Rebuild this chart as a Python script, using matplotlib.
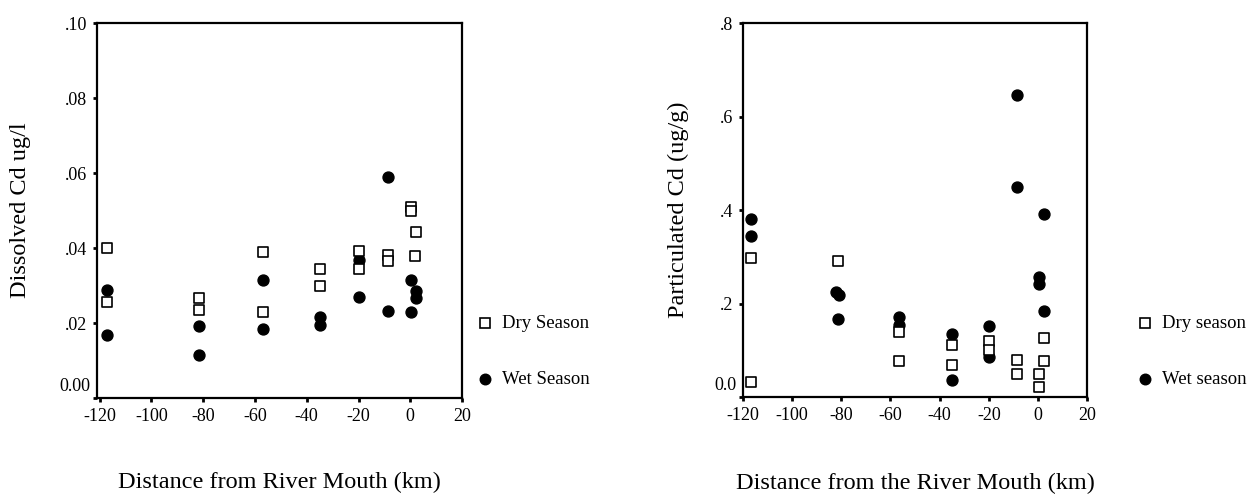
import matplotlib
matplotlib.use("Agg")
import matplotlib.pyplot as plt
from matplotlib.lines import Line2D

plt.rcParams['font.family'] = ['Liberation Serif', 'DejaVu Serif']
plt.rcParams['axes.unicode_minus'] = False

# dissolved Cd (ug/l) vs distance from river mouth (km)
diss_dry_km = [-117.2, -117.2, -81.5, -81.5, -56.8, -56.8, -34.8, -34.8,
               -20.0, -20.0, -8.6, -8.6, 0.3, 0.3, 2.3, 1.9]
diss_dry_cd = [0.040, 0.0255, 0.0266, 0.0234, 0.039, 0.0229, 0.0344, 0.030,
               0.0392, 0.0344, 0.0381, 0.0365, 0.0509, 0.0498, 0.0444, 0.0379]
diss_wet_km = [-117.2, -117.2, -81.5, -81.5, -56.8, -56.8, -34.8, -34.8,
               -20.0, -20.0, -8.6, -8.6, 0.3, 0.3, 2.3, 2.3]
diss_wet_cd = [0.0287, 0.0168, 0.0191, 0.0114, 0.0315, 0.0185, 0.0215, 0.0194,
               0.0368, 0.0269, 0.059, 0.0233, 0.0315, 0.0229, 0.0286, 0.0268]

# particulate Cd (ug/g)
part_dry_km = [-116.9, -116.9, -81.5, -56.5, -56.5, -34.8, -34.8, -19.8, -19.8,
               -8.5, -8.5, 0.6, 0.6, 2.3, 2.3]
part_dry_cd = [0.032, 0.298, 0.290, 0.139, 0.078, 0.112, 0.069, 0.120, 0.101,
               0.080, 0.050, 0.050, 0.021, 0.127, 0.078]
part_wet_km = [-116.9, -116.9, -82.0, -81.0, -81.5, -56.5, -56.5, -34.8, -34.8,
               -19.8, -19.8, -8.5, -8.5, 0.6, 0.6, 2.3, 2.3]
part_wet_cd = [0.381, 0.344, 0.224, 0.218, 0.167, 0.172, 0.153, 0.135, 0.036,
               0.151, 0.086, 0.646, 0.450, 0.256, 0.242, 0.392, 0.185]

x_ticks = [-120, -100, -80, -60, -40, -20, 0, 20]
diss_ticks = [0.0, 0.02, 0.04, 0.06, 0.08, 0.10]
diss_tick_labels = ['0.00', '.02', '.04', '.06', '.08', '.10']
part_ticks = [0.0, 0.2, 0.4, 0.6, 0.8]
part_tick_labels = ['0.0', '.2', '.4', '.6', '.8']

fig = plt.figure(figsize=(12.57, 4.99), dpi=100)
ax1 = fig.add_axes([0.0772, 0.2024, 0.2904, 0.7515])
ax2 = fig.add_axes([0.5911, 0.2044, 0.2737, 0.7495])


def style(ax, xlim, ylim, yt, ytl, ylabel, xlabel, ylab_x, xlab_y):
    ax.set_xlim(*xlim)
    ax.set_ylim(*ylim)
    ax.set_xticks(x_ticks)
    ax.set_yticks(yt)
    # the zero label sits a little above its tick
    ax.set_yticklabels([''] + ytl[1:])
    ax.annotate(ytl[0], xy=(0, 0), xycoords='axes fraction', xytext=(-5, 8),
                textcoords='offset points', ha='right', va='center',
                fontsize=13)
    ax.tick_params(direction='out', length=3, width=2, labelsize=13, pad=4)
    for s in ax.spines.values():
        s.set_linewidth(1.6)
    ax.set_ylabel(ylabel, fontsize=17.5, va='center')
    ax.yaxis.set_label_coords(ylab_x, 0.5)
    ax.set_xlabel(xlabel, fontsize=17.5, va='center')
    ax.xaxis.set_label_coords(0.5, xlab_y)


def points(ax, dry_x, dry_y, wet_x, wet_y):
    ax.scatter(wet_x, wet_y, marker='o', s=62, c='black', zorder=3)
    ax.scatter(dry_x, dry_y, marker='s', s=52, facecolors='white',
               edgecolors='black', linewidths=1.2, zorder=4)


points(ax1, diss_dry_km, diss_dry_cd, diss_wet_km, diss_wet_cd)
style(ax1, (-121, 20), (0, 0.10), diss_ticks, diss_tick_labels,
      'Dissolved Cd ug/l', 'Distance from River Mouth (km)', -0.211, -0.226)

points(ax2, part_dry_km, part_dry_cd, part_wet_km, part_wet_cd)
style(ax2, (-120, 20), (0, 0.8), part_ticks, part_tick_labels,
      'Particulated Cd (ug/g)', 'Distance from the River Mouth (km)',
      -0.189, -0.230)


# season keys beside each panel
def key(x, y_dry, y_wet, dry_text, wet_text):
    W, H = 1257, 499
    fig.add_artist(Line2D([x / W], [1 - y_dry / H], marker='s', ms=7.2,
                          mfc='white', mec='black', mew=1.2, ls='none'))
    fig.add_artist(Line2D([x / W], [1 - y_wet / H], marker='o', ms=7.6,
                          mfc='black', mec='black', ls='none'))
    fig.text((x + 17) / W, 1 - y_dry / H, dry_text, fontsize=13.5, va='center')
    fig.text((x + 17) / W, 1 - y_wet / H, wet_text, fontsize=13.5, va='center')


key(485, 323, 379, 'Dry Season', 'Wet Season')
key(1145, 323, 379, 'Dry season', 'Wet season')

fig.savefig('out.png', dpi=100, facecolor='white')
